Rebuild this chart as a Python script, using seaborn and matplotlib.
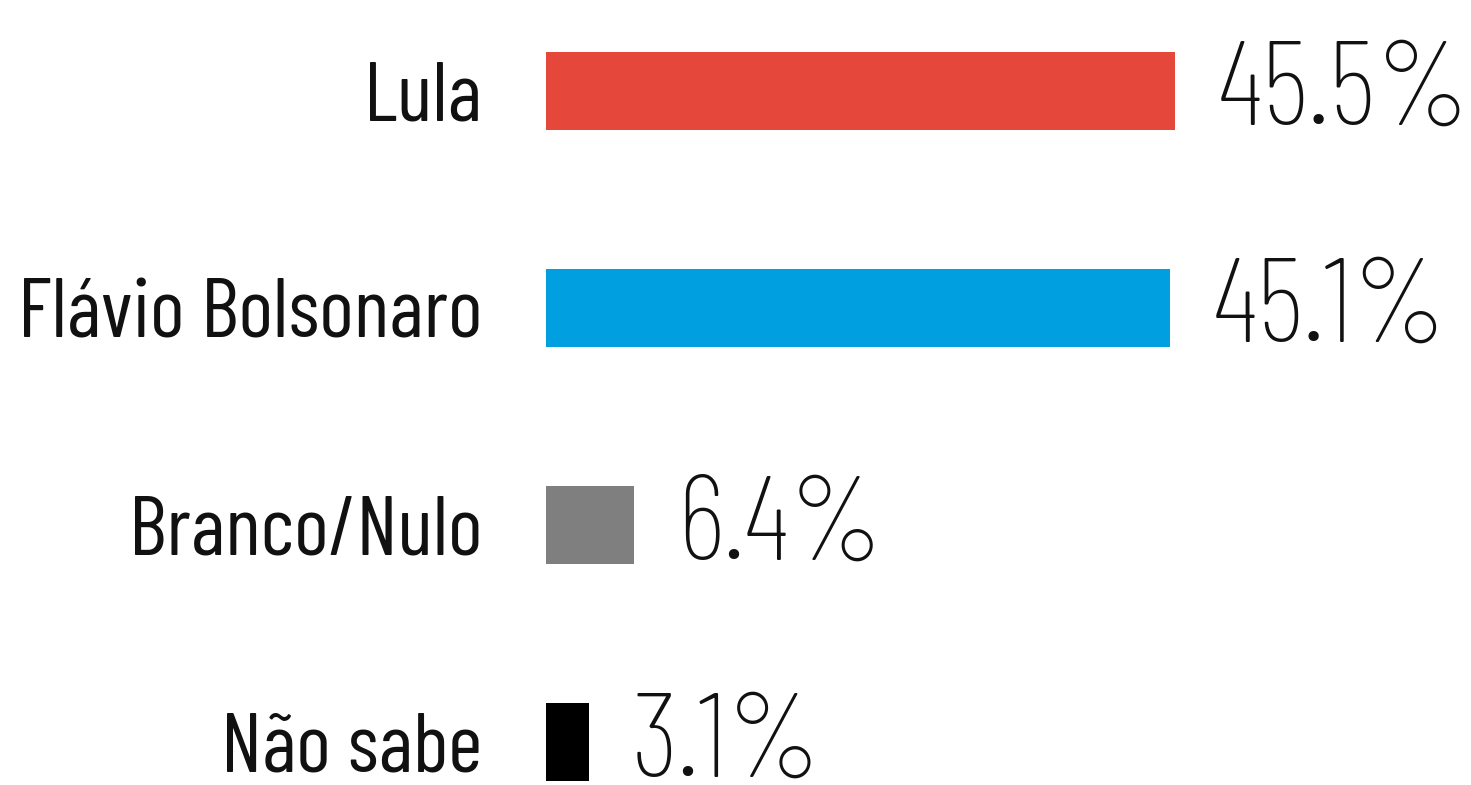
import matplotlib
matplotlib.use("Agg")
import matplotlib.pyplot as plt
import seaborn as sns
import pandas as pd

categories = ["Lula", "Flávio Bolsonaro", "Branco/Nulo", "Não sabe"]
values = [45.5, 45.1, 6.4, 3.1]
value_labels = ["45.5%", "45.1%", "6.4%", "3.1%"]
colors = ["#E5483B", "#009FDF", "#7F7F7F", "#000000"]

sns.set_style("white")

df = pd.DataFrame({"cat": categories, "val": values})

fig = plt.figure(figsize=(14.71, 7.85), dpi=100)
ax = fig.add_axes([546 / 1471, 0.0, 1 - 546 / 1471, 1.0])

sns.barplot(data=df, x="val", y="cat", hue="cat", palette=colors, order=categories,
            hue_order=categories, orient="h", width=0.36, legend=False, ax=ax,
            saturation=1.0, edgecolor="none")

ax.set_xlim(0, 66.9)
ax.set_ylim(3.198, -0.419)
ax.set_xlabel("")
ax.set_ylabel("")
ax.set_xticks([])
sns.despine(ax=ax, left=True, bottom=True, top=True, right=True)

ax.tick_params(axis="y", length=0, pad=46)
for lab in ax.get_yticklabels():
    lab.set_fontfamily(["Barlow Condensed", "DejaVu Sans"])
    lab.set_fontweight(400)
    lab.set_fontsize(60)
    lab.set_color("#111111")

for i, (v, lab) in enumerate(zip(values, value_labels)):
    ax.annotate(lab, xy=(v, i), xytext=(31, -3), textcoords="offset points",
                va="center", ha="left", fontsize=86, fontweight=250,
                family=["Barlow Condensed", "DejaVu Sans"], color="#111111")

fig.savefig("out.png", dpi=100)
